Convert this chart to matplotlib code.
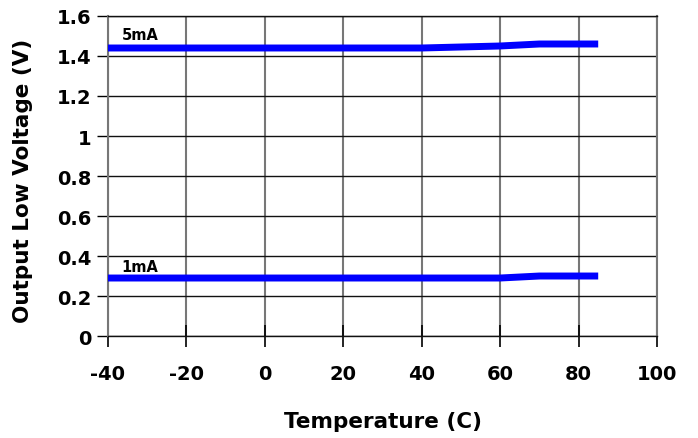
import matplotlib
matplotlib.use("Agg")
import matplotlib.pyplot as plt

plt.rcParams['font.family'] = ['DejaVu Sans']
plt.rcParams['font.weight'] = 'bold'

# data
temp = [-40, -20, 0, 20, 40, 60, 70, 85]
vol_5ma = [1.44, 1.44, 1.44, 1.44, 1.44, 1.45, 1.46, 1.46]
vol_1ma = [0.29, 0.29, 0.29, 0.29, 0.29, 0.29, 0.30, 0.30]
xticks = [-40, -20, 0, 20, 40, 60, 80, 100]
yticks = [0, 0.2, 0.4, 0.6, 0.8, 1.0, 1.2, 1.4, 1.6]
ylabels = ['0', '0.2', '0.4', '0.6', '0.8', '1', '1.2', '1.4', '1.6']

fig = plt.figure(figsize=(6.98, 4.39), dpi=100)
ax = fig.add_axes([0.1547, 0.2323, 0.7866, 0.729])

# grid: vertical grey, horizontal black
for x in xticks:
    ax.axvline(x, color='#777777', lw=1.5, zorder=1)
for y in yticks:
    ax.axhline(y, color='#111111', lw=1.0, zorder=1)

ax.plot(temp, vol_5ma, color='#0000ff', lw=5, solid_capstyle='butt', zorder=3)
ax.plot(temp, vol_1ma, color='#0000ff', lw=5, solid_capstyle='butt', zorder=3)

ax.text(-36.5, 1.47, '5mA', fontsize=10.5, fontweight='bold', va='bottom')
ax.text(-36.5, 0.31, '1mA', fontsize=10.5, fontweight='bold', va='bottom')

ax.set_xlim(-40, 100)
ax.set_ylim(0, 1.6)
ax.set_xticks(xticks)
ax.set_xticklabels([str(v) for v in xticks])
ax.set_yticks(yticks)
ax.set_yticklabels(ylabels)
ax.tick_params(axis='x', direction='inout', length=16, width=1.2, pad=12, labelsize=14)
ax.tick_params(axis='y', direction='out', length=8, width=1.0, pad=4, labelsize=14)

for s in ['left', 'right']:
    ax.spines[s].set_color('#777777')
    ax.spines[s].set_linewidth(1.5)
for s in ['top', 'bottom']:
    ax.spines[s].set_color('#111111')
    ax.spines[s].set_linewidth(1.0)

ax.set_xlabel('Temperature (C)', fontsize=15.5, fontweight='bold', labelpad=20)
ax.set_ylabel('Output Low Voltage (V)', fontsize=15.5, fontweight='bold')
ax.yaxis.set_label_coords(-0.137, 0.489)

fig.savefig('out.png', dpi=100)
